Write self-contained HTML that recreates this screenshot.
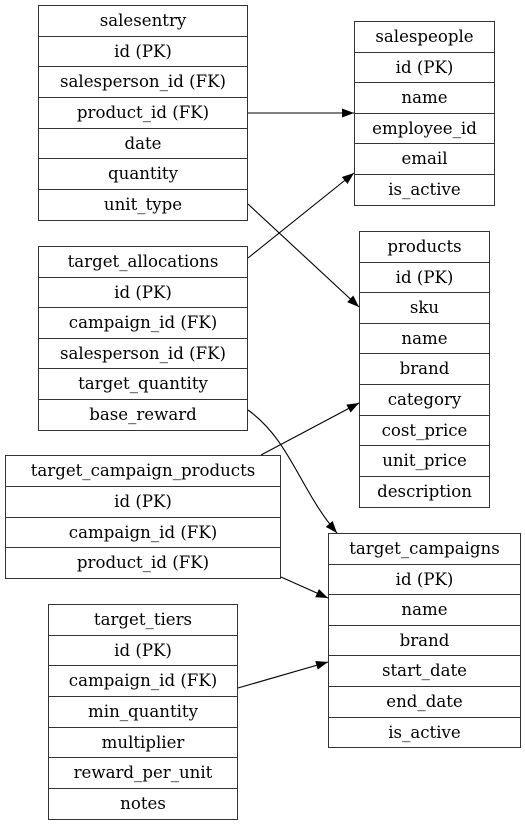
<!DOCTYPE html>
<html><head><meta charset="utf-8"><style>
body{margin:0;width:525px;height:825px;background:#fff;position:relative;overflow:hidden;font-family:"DejaVu Serif","Liberation Serif",serif;font-size:16.6px;color:#000}
.t{position:absolute;border:1px solid #333;box-sizing:border-box;background:#fff}
.t div{box-sizing:border-box;border-bottom:1px solid #333;text-align:center;overflow:hidden;white-space:nowrap;font-family:"DejaVu Serif",serif}
.t div:last-child{border-bottom:none}
svg{position:absolute;left:0;top:0}
</style></head><body>
<div class="t" style="left:38px;top:5px;width:210px;height:216px;">
<div style="height:30.7px;line-height:29px">salesentry</div><div style="height:30.7px;line-height:29px">id (PK)</div><div style="height:30.7px;line-height:29px">salesperson_id (FK)</div><div style="height:30.7px;line-height:29px">product_id (FK)</div><div style="height:30.7px;line-height:29px">date</div><div style="height:30.7px;line-height:29px">quantity</div><div style="height:30.7px;line-height:29px">unit_type</div></div>
<div class="t" style="left:354px;top:21px;width:141px;height:185px;">
<div style="height:30.5px;line-height:29px">salespeople</div><div style="height:30.5px;line-height:29px">id (PK)</div><div style="height:30.5px;line-height:29px">name</div><div style="height:30.5px;line-height:29px">employee_id</div><div style="height:30.5px;line-height:29px">email</div><div style="height:30.5px;line-height:29px">is_active</div></div>
<div class="t" style="left:359px;top:231px;width:131px;height:277px;">
<div style="height:30.6px;line-height:29px">products</div><div style="height:30.6px;line-height:29px">id (PK)</div><div style="height:30.6px;line-height:29px">sku</div><div style="height:30.6px;line-height:29px">name</div><div style="height:30.6px;line-height:29px">brand</div><div style="height:30.6px;line-height:29px">category</div><div style="height:30.6px;line-height:29px">cost_price</div><div style="height:30.6px;line-height:29px">unit_price</div><div style="height:30.6px;line-height:29px">description</div></div>
<div class="t" style="left:38px;top:246px;width:210px;height:185px;">
<div style="height:30.6px;line-height:29px">target_allocations</div><div style="height:30.6px;line-height:29px">id (PK)</div><div style="height:30.6px;line-height:29px">campaign_id (FK)</div><div style="height:30.6px;line-height:29px">salesperson_id (FK)</div><div style="height:30.6px;line-height:29px">target_quantity</div><div style="height:30.6px;line-height:29px">base_reward</div></div>
<div class="t" style="left:5px;top:455px;width:276px;height:124px;">
<div style="height:30.8px;line-height:29px">target_campaign_products</div><div style="height:30.8px;line-height:29px">id (PK)</div><div style="height:30.8px;line-height:29px">campaign_id (FK)</div><div style="height:30.8px;line-height:29px">product_id (FK)</div></div>
<div class="t" style="left:328px;top:533px;width:193px;height:215px;">
<div style="height:30.6px;line-height:29px">target_campaigns</div><div style="height:30.6px;line-height:29px">id (PK)</div><div style="height:30.6px;line-height:29px">name</div><div style="height:30.6px;line-height:29px">brand</div><div style="height:30.6px;line-height:29px">start_date</div><div style="height:30.6px;line-height:29px">end_date</div><div style="height:30.6px;line-height:29px">is_active</div></div>
<div class="t" style="left:48px;top:604px;width:190px;height:216px;">
<div style="height:30.7px;line-height:29px">target_tiers</div><div style="height:30.7px;line-height:29px">id (PK)</div><div style="height:30.7px;line-height:29px">campaign_id (FK)</div><div style="height:30.7px;line-height:29px">min_quantity</div><div style="height:30.7px;line-height:29px">multiplier</div><div style="height:30.7px;line-height:29px">reward_per_unit</div><div style="height:30.7px;line-height:29px">notes</div></div>
<svg width="525" height="825" viewBox="0 0 525 825">
<defs><marker id="a" markerWidth="12" markerHeight="10" refX="12" refY="5" orient="auto" markerUnits="userSpaceOnUse"><path d="M0,0.5 L12,5 L0,9.5 z" fill="#000"/></marker></defs>
<g stroke="#000" stroke-width="1.1" fill="none" marker-end="url(#a)">
<path d="M248,113 L354,113"/>
<path d="M248,258 L354,173"/>
<path d="M248,204 L359,307"/>
<path d="M261,455 L359,403"/>
<path d="M248,410 C290,440 300,490 337,533"/>
<path d="M281,577 L328,598"/>
<path d="M238,688 L328,662"/>
</g></svg>
</body></html>
